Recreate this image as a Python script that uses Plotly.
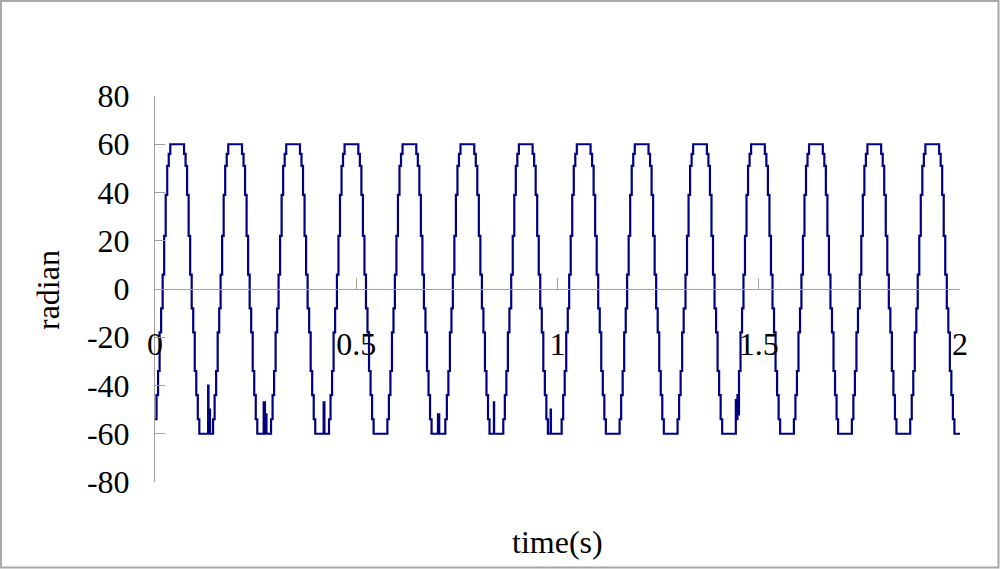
import plotly.graph_objects as go

# ---- data ----
# times (s) of each rising zero crossing of the signal
cycle_starts = [0.019, 0.163, 0.307, 0.452, 0.596, 0.740, 0.885,
                1.029, 1.173, 1.318, 1.462, 1.606, 1.751, 1.895]
# held (sample-and-hold) levels of one cycle, starting just after a rising zero crossing
cycle_levels = [6, 22, 39, 51, 56,
                60, 60, 60, 60, 60, 60, 60, 60, 60,
                56, 51, 39, 22, 6, -8, -18, -34, -44, -54,
                -60, -60, -60, -60, -60, -60, -60, -60, -60,
                -54, -44, -34, -18, -8]
# short noise spikes seen on the negative plateaus
glitch_t = [0.132, 0.136, 0.270, 0.275, 0.419, 0.703, 0.842, 0.983, 1.443, 1.448]
glitch_v = [-40, -50, -47, -52, -47, -52, -47, -50, -46, -52]

x_ticks = [0, 0.5, 1, 1.5, 2]
x_labels = ["0", "0.5", "1", "1.5", "2"]
y_ticks = [-80, -60, -40, -20, 0, 20, 40, 60, 80]
y_labels = ["-80", "-60", "-40", "-20", "0", "20", "40", "60", "80"]

# ---- build the staircase series ----
period = (cycle_starts[-1] - cycle_starts[0]) / (len(cycle_starts) - 1)
dt = period / len(cycle_levels)
starts = [cycle_starts[0] - period] + cycle_starts + [cycle_starts[-1] + period]
pts = []
for c in starts:
    for k, lv in enumerate(cycle_levels):
        t = c + k * dt
        if 0 <= t <= 2:
            pts.append((t, lv))
pts += list(zip(glitch_t, glitch_v))
pts.sort()
pts.append((2.0, pts[-1][1]))
xs = [p[0] for p in pts]
ys = [p[1] for p in pts]

FONT = "Liberation Serif"
AX = "#a0a0a0"

fig = go.Figure()
fig.add_trace(go.Scatter(x=xs, y=ys, mode="lines", line=dict(color="#000080", width=2.2, shape="hv"),
                         showlegend=False, hoverinfo="skip"))

L, R, T, B = 155, 40, 96, 87
W, H = 1000, 569
pw, ph = W - L - R, H - T - B

fig.update_layout(
    width=W, height=H,
    margin=dict(l=L, r=R, t=T, b=B),
    paper_bgcolor="white", plot_bgcolor="white",
    font=dict(family=FONT, size=32, color="black"),
    xaxis=dict(range=[0, 2], tickvals=x_ticks, ticktext=x_labels,
               anchor="free", position=0.5, showline=True, linecolor=AX, linewidth=1,
               ticks="inside", ticklen=11, tickcolor=AX, tickwidth=1, showgrid=False, zeroline=False,
               ticklabelstandoff=27, tickfont=dict(family=FONT, size=32, color="black")),
    yaxis=dict(range=[-80, 80], tickvals=y_ticks, ticktext=y_labels, showline=True, linecolor=AX, linewidth=1,
               ticks="inside", ticklen=10, tickcolor=AX, tickwidth=1, showgrid=False, zeroline=False,
               ticklabelstandoff=18, tickfont=dict(family=FONT, size=32, color="black")),
    annotations=[
        dict(text="radian", xref="paper", yref="paper", x=(48 - L) / pw, y=(H - B - 290) / ph,
             xanchor="center", yanchor="middle",
             showarrow=False, textangle=-90, font=dict(family=FONT, size=32, color="black")),
        dict(text="time(s)", xref="paper", yref="paper", x=(557 - L) / pw, y=(H - B - 542) / ph,
             xanchor="center", yanchor="middle",
             showarrow=False, font=dict(family=FONT, size=32, color="black")),
    ],
    shapes=[dict(type="rect", xref="paper", yref="paper",
                 x0=(1 - L) / pw, x1=(998.5 - L) / pw,
                 y0=(H - B - 567.5) / ph, y1=(H - B - 1) / ph,
                 line=dict(color="#a8a8a8", width=2), fillcolor="rgba(0,0,0,0)", layer="below")],
)

fig.write_html("out.html", config={"displayModeBar": False},
               post_script="document.body.style.margin='0';document.body.style.overflow='hidden';")
